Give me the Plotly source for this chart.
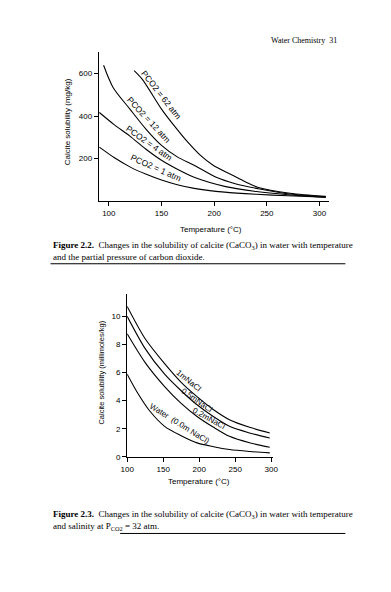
import plotly.graph_objects as go

W, H = 391, 592

# ---- Figure 2.2 data: calcite solubility (mg/kg) vs temperature, by PCO2 ----
t_62 = [124, 132, 150, 162, 175, 187, 199, 217, 230, 242, 272, 306]
s_62 = [614, 572, 433, 355, 277, 215, 169, 123, 90, 64, 37, 22]
t_12 = [95, 104, 120, 135, 150, 165, 181, 202, 220, 242, 272, 306]
s_12 = [639, 535, 433, 340, 262, 208, 169, 112, 82, 58, 33, 20]
t_4 = [91, 105, 120, 135, 150, 165, 181, 211, 240, 270, 306]
s_4 = [417, 360, 306, 245, 192, 150, 112, 68, 45, 30, 18]
t_1 = [91, 105, 120, 135, 150, 165, 181, 210, 240, 270, 306]
s_1 = [254, 205, 161, 127, 99, 77, 60, 42, 32, 25, 18]
top_labels = ["PCO2 = 62 atm", "PCO2 = 12 atm", "PCO2 = 4 atm", "PCO2 = 1 atm"]
top_ticks_x = [100, 150, 200, 250, 300]
top_ticks_y = [200, 400, 600]

# ---- Figure 2.3 data: calcite solubility (mmol/kg) vs temperature, by salinity ----
t_b = [100, 125, 152, 175, 197, 220, 242, 270, 298]
s_1m = [10.7, 8.4, 6.63, 5.3, 4.28, 3.35, 2.64, 2.1, 1.7]
s_05m = [10.0, 7.7, 5.88, 4.7, 3.7, 2.85, 2.17, 1.7, 1.34]
s_02m = [8.75, 6.7, 5.0, 3.8, 2.87, 2.1, 1.46, 1.0, 0.68]
t_w = [100, 115, 130, 152, 175, 197, 220, 242, 270, 298]
s_w = [5.88, 4.5, 3.35, 2.17, 1.5, 0.99, 0.72, 0.52, 0.38, 0.28]
bot_labels = ["1mNaCl", "0.5mNaCl", "0.2mNaCl", "Water  (0.0m NaCl)"]
bot_ticks_x = [100, 150, 200, 250, 300]
bot_ticks_y = [0, 2, 4, 6, 8, 10]

SANS = "Liberation Sans, Arial, sans-serif"
SERIF = "Liberation Serif, Times New Roman, serif"
line = dict(color="black", width=1.1, shape="spline", smoothing=0.8)

fig = go.Figure()
for tx, sy in [(t_62, s_62), (t_12, s_12), (t_4, s_4), (t_1, s_1)]:
    fig.add_trace(go.Scatter(x=tx, y=sy, mode="lines", line=line,
                             xaxis="x", yaxis="y", showlegend=False, hoverinfo="skip"))
for tx, sy in [(t_b, s_1m), (t_b, s_05m), (t_b, s_02m), (t_w, s_w)]:
    fig.add_trace(go.Scatter(x=tx, y=sy, mode="lines", line=line,
                             xaxis="x2", yaxis="y2", showlegend=False, hoverinfo="skip"))

def px(x):
    return x / W

def py(y):
    return 1 - y / H

axis_common = dict(showline=True, linecolor="black", linewidth=1.2, ticks="outside",
                   ticklen=4, tickcolor="black", tickwidth=1, showgrid=False, zeroline=False,
                   tickfont=dict(family=SANS, size=8, color="black"), fixedrange=True)

fig.update_layout(
    width=W, height=H, margin=dict(l=0, r=0, t=0, b=0),
    paper_bgcolor="white", plot_bgcolor="white", showlegend=False,
    xaxis=dict(domain=[px(95), px(333)], range=[90.5, 309], anchor="y",
               tickvals=top_ticks_x, **axis_common),
    yaxis=dict(domain=[py(202.8), py(52.8)], range=[0, 700], anchor="x",
               tickvals=top_ticks_y, **axis_common),
    xaxis2=dict(domain=[px(124.3), px(275)], range=[100, 302.3], anchor="y2",
                tickvals=bot_ticks_x, **axis_common),
    yaxis2=dict(domain=[py(460.7), py(296.7)], range=[0, 11.57], anchor="x2",
                tickvals=bot_ticks_y, **axis_common),
)

ann = []
def txt(x, y, text, size=8, family=SANS, angle=0, xanchor="center", yanchor="middle",
        xref="paper", yref="paper", align="center"):
    ann.append(dict(x=x, y=y, text=text, showarrow=False, textangle=angle,
                    font=dict(family=family, size=size, color="black"),
                    xanchor=xanchor, yanchor=yanchor, xref=xref, yref=yref, align=align))

# header
txt(px(343), py(41), "Water Chemistry  31", size=8, family=SERIF, xanchor="right")

# top chart axis titles
txt(px(63.5), py(123), "Calcite solubility (mg/kg)", size=8, angle=-90)
txt(px(211.5), py(231), "Temperature (°C)", size=8)

# top chart curve labels (data coordinates, set just above each curve)
top_pos = [(150, 500, 52), (138, 380, 47), (138, 272, 35), (145, 158, 24)]
for lab, (x, y, a) in zip(top_labels, top_pos):
    txt(x, y, lab, size=8.5, angle=a, xref="x", yref="y")

# caption 2.2
txt(px(46), py(240), "<b>Figure 2.2.</b>  Changes in the solubility of calcite (CaCO<sub>3</sub>) in water with temperature"
    "<br>and the partial pressure of carbon dioxide.",
    size=9, family=SERIF, xanchor="left", yanchor="top", align="left")

# bottom chart axis titles
txt(px(98), py(376), "Calcite solubility (millimoles/kg)", size=7.5, angle=-90)
txt(px(198.5), py(486), "Temperature (°C)", size=8)

# bottom chart curve labels
bot_pos = [(184.7, 5.4, 39), (197, 4.02, 35), (213.5, 2.72, 29), (172, 2.35, 32)]
for lab, (x, y, a) in zip(bot_labels, bot_pos):
    txt(x, y, lab, size=8, angle=a, xref="x2", yref="y2")

# caption 2.3
txt(px(46), py(511), "<b>Figure 2.3.</b>  Changes in the solubility of calcite (CaCO<sub>3</sub>) in water with temperature"
    "<br>and salinity at P<sub>CO2</sub> = 32 atm.",
    size=9, family=SERIF, xanchor="left", yanchor="top", align="left")

fig.update_layout(annotations=ann)

# rules under captions
fig.add_shape(type="line", xref="paper", yref="paper", x0=px(45), x1=px(350), y0=py(266), y1=py(266),
              line=dict(color="black", width=1))
fig.add_shape(type="line", xref="paper", yref="paper", x0=px(117), x1=px(350), y0=py(538), y1=py(538),
              line=dict(color="black", width=1))

fig.write_html("out.html", config={"displayModeBar": False},
               post_script="document.body.style.margin='0';document.body.style.overflow='hidden';")
